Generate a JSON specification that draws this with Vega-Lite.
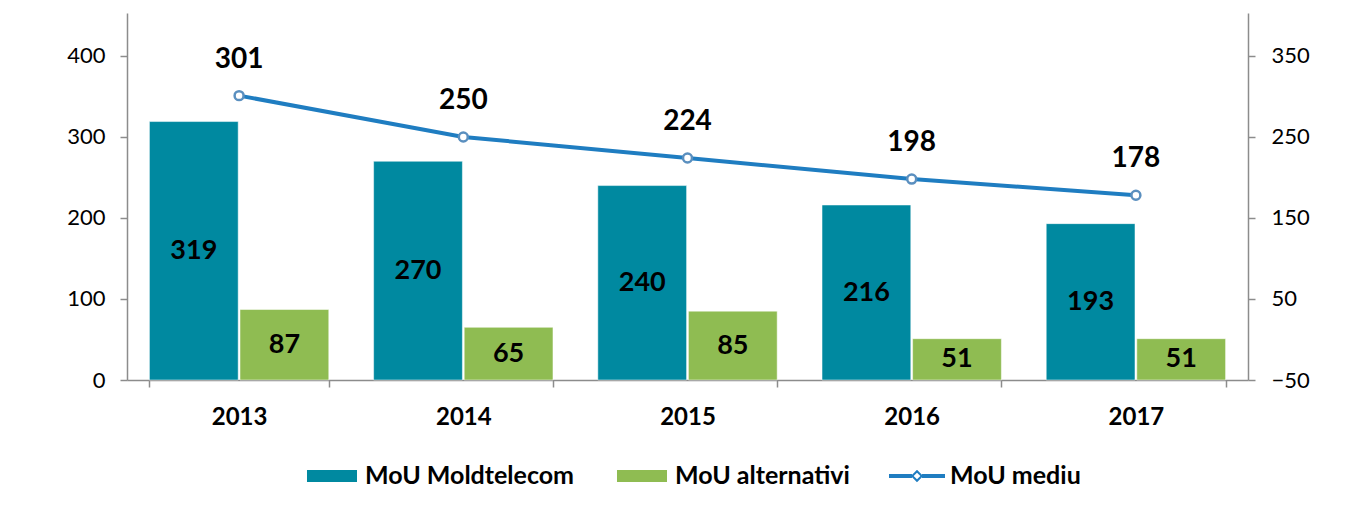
{
  "$schema": "https://vega.github.io/schema/vega-lite/v6.json",
  "autosize": {"type": "none"},
  "width": 1121,
  "height": 367,
  "padding": {"left": 127, "top": 13, "right": 114, "bottom": 126},
  "background": "white",
  "config": {
    "view": {"stroke": null},
    "font": "Lato",
    "axis": {"grid": false, "title": null, "domainColor": "#8c8c8c", "domainWidth": 1.5, "tickColor": "#8c8c8c", "tickWidth": 1.5, "tickSize": 7, "labelColor": "#000000", "labelFont": "Lato"},
    "legend": {"orient": "none", "legendX": 177, "legendY": 435, "direction": "horizontal", "title": null,
      "labelFont": "Lato", "labelFontSize": 25, "labelFontWeight": "bold", "labelColor": "#000000", "labelLimit": 400,
      "symbolSize": 3136, "symbolStrokeWidth": 0, "symbolOpacity": 1, "labelOffset": 5, "columnPadding": 39, "padding": 0}
  },
  "datasets": {
    "bars": [
      {"year": "2013", "series": "MoU Moldtelecom", "value": 319},
      {"year": "2013", "series": "MoU alternativi", "value": 87},
      {"year": "2014", "series": "MoU Moldtelecom", "value": 270},
      {"year": "2014", "series": "MoU alternativi", "value": 65},
      {"year": "2015", "series": "MoU Moldtelecom", "value": 240},
      {"year": "2015", "series": "MoU alternativi", "value": 85},
      {"year": "2016", "series": "MoU Moldtelecom", "value": 216},
      {"year": "2016", "series": "MoU alternativi", "value": 51},
      {"year": "2017", "series": "MoU Moldtelecom", "value": 193},
      {"year": "2017", "series": "MoU alternativi", "value": 51}
    ],
    "avg": [
      {"year": "2013", "series": "MoU mediu", "value": 301},
      {"year": "2014", "series": "MoU mediu", "value": 250},
      {"year": "2015", "series": "MoU mediu", "value": 224},
      {"year": "2016", "series": "MoU mediu", "value": 198},
      {"year": "2017", "series": "MoU mediu", "value": 178}
    ]
  },
  "encoding": {
    "x": {
      "field": "year", "type": "nominal", "sort": null,
      "scale": {"paddingInner": 0.2, "paddingOuter": 0.1},
      "axis": {"labelFontSize": 24, "labelFontWeight": "bold", "labelAngle": 0, "labelPadding": 18, "tickBand": "extent"}
    }
  },
  "layer": [
    {
      "data": {"name": "bars"},
      "mark": {"type": "bar", "stroke": "white", "strokeWidth": 0.5},
      "encoding": {
        "xOffset": {"field": "series", "type": "nominal", "sort": null, "scale": {"domain": ["MoU Moldtelecom", "MoU alternativi"], "paddingInner": 0.02, "paddingOuter": 0}},
        "y": {"field": "value", "type": "quantitative", "scale": {"domain": [0, 453], "nice": false, "zero": true},
              "axis": {"orient": "left", "values": [0, 100, 200, 300, 400], "labelFontSize": 22, "labelPadding": 15}},
        "color": {
          "field": "series", "type": "nominal",
          "scale": {"domain": ["MoU Moldtelecom", "MoU alternativi", "MoU mediu"], "range": ["#0089A0", "#8FBC52", "#1F7DC1"]},
          "legend": {"title": null}
        }
      }
    },
    {
      "data": {"name": "bars"},
      "mark": {"type": "text", "font": "Lato", "fontSize": 27, "fontWeight": "bold", "color": "#000000", "baseline": "middle", "align": "center"},
      "encoding": {
        "xOffset": {"field": "series", "type": "nominal", "sort": null},
        "y": {"field": "value", "type": "quantitative", "scale": {"domain": [0, 906], "nice": false, "zero": true}, "axis": null},
        "text": {"field": "value", "type": "quantitative"}
      }
    },
    {
      "data": {"name": "avg"},
      "encoding": {
        "y": {"field": "value", "type": "quantitative", "scale": {"domain": [-50, 403], "nice": false, "zero": false},
              "axis": {"orient": "right", "values": [-50, 50, 150, 250, 350], "labelFontSize": 22, "labelPadding": 16}}
      },
      "layer": [
        {
          "mark": {"type": "line", "strokeWidth": 4},
          "encoding": {"color": {"field": "series", "type": "nominal"}}
        },
        {
          "mark": {"type": "point", "filled": true, "opacity": 0},
          "encoding": {
            "color": {"field": "series", "type": "nominal"},
            "shape": {"field": "series", "type": "nominal",
              "scale": {"domain": ["MoU Moldtelecom", "MoU alternativi", "MoU mediu"],
                "range": ["M-0.893,-0.214H0.893V0.214H-0.893Z", "M-0.893,-0.214H0.893V0.214H-0.893Z", "M-1,-0.071H-0.18V0.071H-1Z M0.18,-0.071H1V0.071H0.18Z M0,-0.22L0.22,0L0,0.22L-0.22,0Z M0,-0.12L-0.12,0L0,0.12L0.12,0Z"]},
              "legend": {"title": null}}
          }
        },
        {
          "mark": {"type": "point", "shape": "circle", "filled": true, "fill": "white", "stroke": "#5A8FBF", "strokeWidth": 2.5, "size": 80, "opacity": 1}
        },
        {
          "mark": {"type": "text", "font": "Lato", "fontSize": 28, "fontWeight": "bold", "color": "#000000", "baseline": "middle", "align": "center", "dy": -36},
          "encoding": {"text": {"field": "value", "type": "quantitative"}}
        }
      ]
    }
  ],
  "resolve": {"scale": {"y": "independent"}}
}
